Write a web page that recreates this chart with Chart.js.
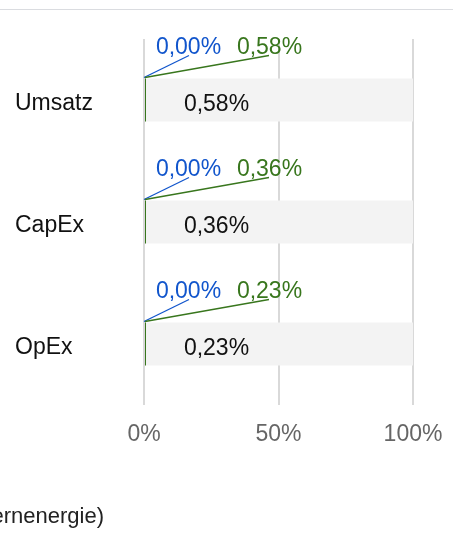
<!DOCTYPE html>
<html>
<head>
<meta charset="utf-8">
<script src="https://cdn.jsdelivr.net/npm/chart.js@4/dist/chart.umd.min.js"></script>
<style>
  html, body { margin: 0; padding: 0; background: #fff; overflow: hidden; }
  #wrap { position: relative; width: 453px; height: 559px; }
  #topline { position: absolute; left: 0; top: 9px; width: 453px; height: 1px; background: #dadce0; }
  #legend { position: absolute; right: 349px; top: 503px; white-space: nowrap;
            font: 22px Arial, "Liberation Sans", sans-serif; color: #222; line-height: 26px; }
  canvas { position: absolute; left: 0; top: 0; }
</style>
</head>
<body>
<div id="wrap">
  <canvas id="c" width="453" height="559"></canvas>
  <div id="topline"></div>
  <div id="legend">Taxonomiekonform (Kernenergie)</div>
</div>
<script>
const categories = ['Umsatz', 'CapEx', 'OpEx'];
const blueValues = [0, 0, 0];
const greenValues = [0.58, 0.36, 0.23];
const trackValues = [100, 100, 100];
const xTickValues = [0, 50, 100];

const FONT = 'Arial, "Liberation Sans", sans-serif';
const fmt = v => v.toFixed(2).replace('.', ',') + '%';

const labelPlugin = {
  id: 'leaderLabels',
  afterDatasetsDraw(chart) {
    const ctx = chart.ctx;
    const blueMeta = chart.getDatasetMeta(0);
    const greenMeta = chart.getDatasetMeta(1);
    ctx.save();
    ctx.font = '23px ' + FONT;
    ctx.textAlign = 'center';
    categories.forEach((c, i) => {
      const gb = greenMeta.data[i];
      const bb = blueMeta.data[i];
      const top = gb.y - gb.height / 2;
      ctx.lineWidth = 1.3;
      // blue leader + label
      ctx.strokeStyle = '#1155cc';
      ctx.beginPath();
      ctx.moveTo(bb.x, top - 1);
      ctx.lineTo(bb.x + 45, top - 23);
      ctx.stroke();
      ctx.fillStyle = '#1155cc';
      ctx.textBaseline = 'alphabetic';
      ctx.fillText(fmt(blueValues[i]), bb.x + 44.5, top - 25);
      // green leader + label
      ctx.strokeStyle = '#38761d';
      ctx.beginPath();
      ctx.moveTo(gb.base, top - 1);
      ctx.lineTo(gb.base + 124, top - 23);
      ctx.stroke();
      ctx.fillStyle = '#38761d';
      ctx.fillText(fmt(greenValues[i]), gb.base + 124.5, top - 25);
      // inner label
      ctx.fillStyle = '#111';
      ctx.fillText(fmt(greenValues[i]), gb.base + 71.5, gb.y + 11);
    });
    ctx.restore();
  }
};

new Chart(document.getElementById('c'), {
  type: 'bar',
  data: {
    labels: categories,
    datasets: [
      { data: blueValues, backgroundColor: '#1155cc', order: 3, grouped: false },
      { data: greenValues, backgroundColor: '#38761d', order: 1, grouped: false, minBarLength: 2 },
      { data: trackValues, backgroundColor: '#f3f3f3', order: 4, grouped: false }
    ]
  },
  options: {
    indexAxis: 'y',
    responsive: false,
    animation: false,
    events: [],
    layout: { padding: { top: 39, left: 15, right: 40, bottom: 104 } },
    datasets: { bar: { barPercentage: 1, categoryPercentage: 43 / 122, borderWidth: 0, inflateAmount: 0 } },
    plugins: { legend: { display: false }, tooltip: { enabled: false } },
    scales: {
      x: {
        min: 0, max: 100,
        afterBuildTicks: s => { s.ticks = xTickValues.map(v => ({ value: v })); },
        afterFit: s => { s.height = 50; s.paddingLeft = 0; s.paddingRight = 0; },
        grid: { color: '#d9d9d9', lineWidth: 2, drawTicks: false },
        border: { display: false },
        ticks: { padding: 16, color: '#666', font: { size: 23, family: FONT }, callback: v => v + '%' }
      },
      y: {
        afterFit: s => { s.width = 129; s.paddingTop = 0; s.paddingBottom = 0; },
        grid: { display: false, drawTicks: false },
        border: { display: false },
        ticks: { crossAlign: 'far', padding: 0, labelOffset: 4, color: '#111', font: { size: 23, family: FONT } }
      }
    }
  },
  plugins: [labelPlugin]
});
</script>
</body>
</html>
